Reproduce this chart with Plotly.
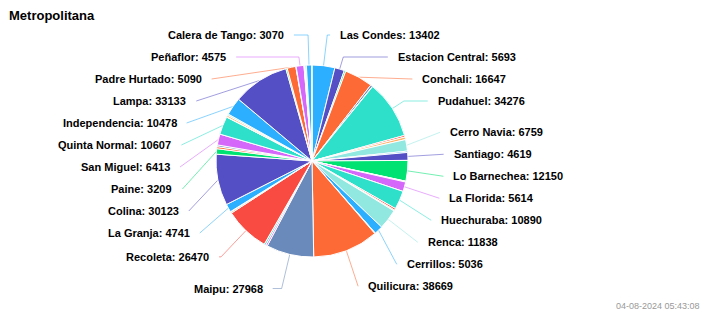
import numpy as np
import plotly.graph_objects as go

# ---------------- data ----------------
title_text = "Metropolitana"
timestamp = "04-08-2024 05:43:08"

comunas = [
    "Las Condes", "Estacion Central", "El Bosque", "Conchali", "La Cisterna", "La Pintana",
    "Pudahuel", "La Reina", "Lo Espejo", "Cerro Navia", "Lo Prado", "Santiago",
    "Lo Barnechea", "Macul", "Ñuñoa", "La Florida", "Huechuraba", "Pedro Aguirre Cerda",
    "Peñalolén", "Renca", "Cerrillos", "Providencia", "San Joaquín", "Quilicura",
    "Maipu", "San Ramón", "Vitacura", "Recoleta", "Puente Alto", "Pirque",
    "La Granja", "Colina", "Paine", "San José de Maipo", "Tiltil", "San Miguel",
    "Quinta Normal", "San Bernardo", "Buin", "Melipilla", "Independencia", "Lampa",
    "Alhué", "Padre Hurtado", "Curacaví", "Peñaflor", "María Pinto", "San Pedro",
    "Talagante", "El Monte", "Calera de Tango", "Isla de Maipo",
]
valores = [
    13402, 5693, 900, 16647, 1200, 200,
    34276, 1000, 1500, 6759, 800, 4619,
    12150, 200, 300, 5614, 10890, 1000,
    600, 11838, 5036, 200, 200, 38669,
    27968, 1000, 1000, 26470, 800, 200,
    4741, 30123, 3209, 1200, 1000, 6413,
    10607, 200, 1000, 800, 10478, 33133,
    800, 5090, 200, 4575, 200, 200,
    200, 800, 3070, 200,
]
# slices that carry a data label in the reference
etiquetadas = [
    "Las Condes", "Estacion Central", "Conchali", "Pudahuel", "Cerro Navia", "Santiago",
    "Lo Barnechea", "La Florida", "Huechuraba", "Renca", "Cerrillos", "Quilicura",
    "Maipu", "Recoleta", "La Granja", "Colina", "Paine", "San Miguel", "Quinta Normal",
    "Independencia", "Lampa", "Padre Hurtado", "Peñaflor", "Calera de Tango",
]
palette = ["#2caffe", "#544fc5", "#00e272", "#fe6a35", "#6b8abc",
           "#d568fb", "#2ee0ca", "#fa4b42", "#feb56a", "#91e8e1"]

# ---------------- layout constants ----------------
W, H = 708, 322
CX, CY, R = 312, 161, 96
LABEL_DY = 3         # vertical offset of the label circle
NAT_R = 128          # radius used for natural label y
LABEL_R = 130        # radius of the label circle for x
LABEL_PAD = 12
CONN_GAP = 10
ROW_H = 22
TOP, BOTTOM = 24, 301
FONT = "Liberation Sans, Arial, Helvetica, sans-serif"

colors = [palette[i % len(palette)] for i in range(len(valores))]


def rgba(hex_color, a):
    h = hex_color.lstrip("#")
    return "rgba(%d,%d,%d,%.2f)" % (int(h[0:2], 16), int(h[2:4], 16), int(h[4:6], 16), a)


vals = np.array(valores, dtype=float)
total = vals.sum()
ends = np.cumsum(vals)
starts = ends - vals
mid = (starts + ends) / 2.0 / total * 2 * np.pi   # clockwise from 12 o'clock


def distribute(items):
    items = sorted(items, key=lambda t: t[1])
    clusters = [{"members": [i], "targets": [t]} for i, t in items]

    def place(c):
        size = len(c["members"]) * ROW_H
        top = float(np.mean(c["targets"])) - size / 2.0
        top = min(max(top, TOP), BOTTOM - size)
        c["top"] = top

    for c in clusters:
        place(c)
    merged = True
    while merged:
        merged = False
        for k in range(len(clusters) - 1):
            a, b = clusters[k], clusters[k + 1]
            if a["top"] + len(a["members"]) * ROW_H > b["top"] + 1e-9:
                c = {"members": a["members"] + b["members"],
                     "targets": a["targets"] + b["targets"]}
                place(c)
                clusters[k:k + 2] = [c]
                merged = True
                break
    pos = {}
    for c in clusters:
        for j, i in enumerate(c["members"]):
            pos[i] = c["top"] + ROW_H * (j + 0.5)
    return pos


idx_lab = [comunas.index(n) for n in etiquetadas]
lcy = CY + LABEL_DY
right = [(i, lcy - NAT_R * np.cos(mid[i])) for i in idx_lab if mid[i] < np.pi]
left = [(i, lcy - NAT_R * np.cos(mid[i])) for i in idx_lab if mid[i] >= np.pi]
ypos = {}
ypos.update(distribute(right))
ypos.update(distribute(left))

fig = go.Figure()

fig.add_trace(go.Pie(
    labels=comunas, values=valores, sort=False, direction="clockwise", rotation=0,
    marker=dict(colors=colors, line=dict(color="#ffffff", width=1)),
    textinfo="none", hoverinfo="label+value", showlegend=False,
    domain=dict(x=[(CX - R) / W, (CX + R) / W], y=[1 - (CY + R) / H, 1 - (CY - R) / H]),
))

annotations = []
for i in idx_lab:
    y = ypos[i]
    is_right = mid[i] < np.pi
    sgn = 1 if is_right else -1
    dy = y - lcy
    off = np.sqrt(max(LABEL_R ** 2 - dy ** 2, 0.0)) + LABEL_PAD
    tx = CX + sgn * off
    p0x = tx - sgn * CONN_GAP
    touch_x = CX + R * np.sin(mid[i])
    touch_y = CY - R * np.cos(mid[i])
    xs, ys = [p0x], [y]
    c = np.cos(mid[i])
    if abs(c) > 1e-6:
        crook = CX + (CY - y) * np.tan(mid[i])
        lo_, hi_ = sorted([p0x, touch_x])
        if lo_ <= crook <= hi_:
            xs.append(crook)
            ys.append(y)
    xs.append(touch_x)
    ys.append(touch_y)
    fig.add_trace(go.Scatter(
        x=xs, y=ys, mode="lines", line=dict(color=rgba(colors[i], 0.55), width=1),
        hoverinfo="skip", showlegend=False,
    ))
    annotations.append(dict(
        x=tx, y=y, xref="x", yref="y", showarrow=False,
        xanchor="left" if is_right else "right", yanchor="middle",
        text="<b>%s: %d</b>" % (comunas[i], valores[i]),
        font=dict(family=FONT, size=11, color="#000000"),
        borderpad=0, borderwidth=0,
    ))

annotations.append(dict(
    x=8 / W, y=1 - 15 / H, xref="paper", yref="paper", showarrow=False,
    xanchor="left", yanchor="middle", text="<b>%s</b>" % title_text,
    font=dict(family=FONT, size=13, color="#000000"), borderpad=0,
))
annotations.append(dict(
    x=701 / W, y=1 - 306 / H, xref="paper", yref="paper", showarrow=False,
    xanchor="right", yanchor="middle", text=timestamp,
    font=dict(family=FONT, size=9, color="#999999"), borderpad=0,
))

fig.update_layout(
    width=W, height=H, margin=dict(l=0, r=0, t=0, b=0),
    paper_bgcolor="#ffffff", plot_bgcolor="rgba(0,0,0,0)",
    xaxis=dict(range=[0, W], visible=False, fixedrange=True),
    yaxis=dict(range=[H, 0], visible=False, fixedrange=True),
    annotations=annotations, showlegend=False,
    font=dict(family=FONT),
)

fig.write_html("out.html")
